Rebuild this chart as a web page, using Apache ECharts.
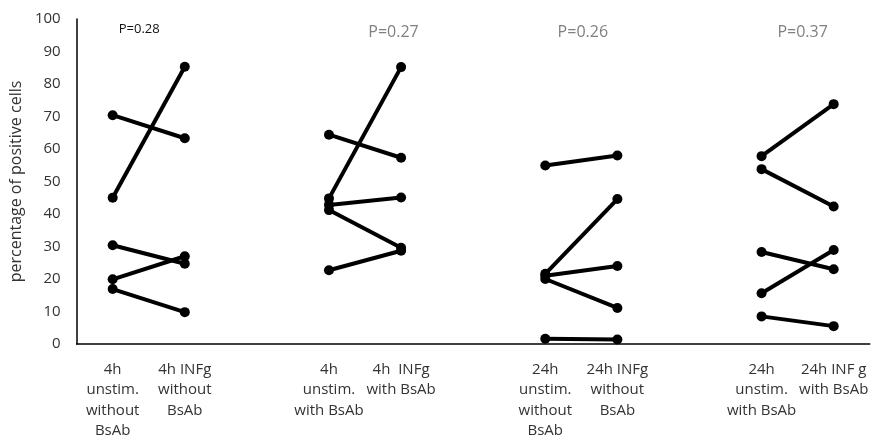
<!DOCTYPE html>
<html>
<head>
<meta charset="utf-8">
<script src="https://cdn.jsdelivr.net/npm/echarts@6/dist/echarts.min.js"></script>
<style>
  html, body { margin: 0; padding: 0; background: #fff; }
  #chart { width: 871px; height: 441px; }
</style>
</head>
<body>
<div id="chart"></div>
<script>
// Category slots; empty strings leave a gap between the four paired conditions
const categories = [
  '4h\nunstim.\nwithout\nBsAb', '4h INFg\nwithout\nBsAb', '',
  '4h\nunstim.\nwith BsAb', '4h  INFg\nwith BsAb', '',
  '24h\nunstim.\nwithout\nBsAb', '24h INFg\nwithout\nBsAb', '',
  '24h\nunstim.\nwith BsAb', '24h INF g\nwith BsAb'
];

// Paired measurements (percentage of positive cells), one entry per donor
const unstim4hNoAb   = [70.4, 45.0, 30.4, 19.9, 16.9];
const infg4hNoAb     = [63.3, 85.3, 24.7, 27.0,  9.8];
const unstim4hAb     = [64.4, 44.8, 42.8, 41.2, 22.7];
const infg4hAb       = [57.3, 85.2, 45.1, 29.6, 28.7];
const unstim24hNoAb  = [54.9, 21.6, 21.0, 20.0,  1.6];
const infg24hNoAb    = [58.0, 44.6, 24.0, 11.1,  1.4];
const unstim24hAb    = [57.8, 53.8, 28.3, 15.6,  8.5];
const infg24hAb      = [73.8, 42.3, 23.0, 28.9,  5.5];

const pValues = ['P=0.28', 'P=0.27', 'P=0.26', 'P=0.37'];

const pairs = [
  [unstim4hNoAb, infg4hNoAb],
  [unstim4hAb, infg4hAb],
  [unstim24hNoAb, infg24hNoAb],
  [unstim24hAb, infg24hAb]
];

const textColor = '#333';

// One short line series per donor per condition pair
const series = [];
pairs.forEach(([before, after], g) => {
  const slot = g * 3;
  before.forEach((v, i) => {
    const data = categories.map(() => null);
    data[slot] = v;
    data[slot + 1] = after[i];
    series.push({
      type: 'line',
      data,
      connectNulls: false,
      symbol: 'circle',
      symbolSize: 10,
      lineStyle: { color: '#000', width: 4 },
      itemStyle: { color: '#000' },
      emphasis: { disabled: true },
      silent: true,
      animation: false
    });
  });
});

const chart = echarts.init(document.getElementById('chart'));
chart.setOption({
  animation: false,
  grid: { left: 70, right: 0, top: 19, bottom: 95 },
  xAxis: {
    type: 'category',
    data: categories,
    boundaryGap: true,
    axisLine: { lineStyle: { color: '#000', width: 1.5 } },
    axisTick: { show: false },
    axisLabel: {
      interval: 0,
      color: textColor,
      fontFamily: 'Open Sans',
      fontSize: 15,
      lineHeight: 20.5,
      margin: 15,
      align: 'center'
    }
  },
  yAxis: {
    type: 'value',
    min: 0,
    max: 100,
    interval: 10,
    name: 'percentage of positive cells',
    nameLocation: 'middle',
    nameGap: 47,
    nameTextStyle: { color: textColor, fontFamily: 'Open Sans', fontSize: 16 },
    axisLine: { show: true, lineStyle: { color: '#000', width: 1.5 } },
    axisTick: { show: false },
    splitLine: { show: false },
    axisLabel: { color: textColor, fontFamily: 'Open Sans', fontSize: 15, margin: 16 }
  },
  series
});

// P-value captions above each pair, placed relative to the pair's midpoint
const captionShift = [-9.5, 28.5, 1.5, 5];
const graphics = pValues.map((txt, g) => {
  const mid = (chart.convertToPixel({ xAxisIndex: 0 }, g * 3) +
               chart.convertToPixel({ xAxisIndex: 0 }, g * 3 + 1)) / 2;
  const first = g === 0;
  return {
    type: 'text',
    x: mid + captionShift[g],
    y: first ? 29 : 32,
    style: {
      text: txt,
      fill: first ? '#111' : '#808080',
      font: (first ? '13px' : '16px') + ' "Open Sans"',
      align: 'center',
      verticalAlign: 'middle'
    }
  };
});
chart.setOption({ graphic: graphics });
</script>
</body>
</html>
